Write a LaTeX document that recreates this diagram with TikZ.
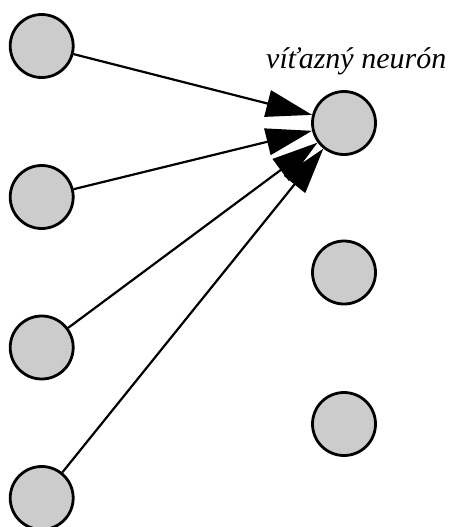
\documentclass[tikz,border=0pt]{standalone}
\usepackage{fontspec}
\setmainfont{Liberation Serif}
\usetikzlibrary{arrows.meta}
\definecolor{neurongray}{HTML}{CCCCCC}
\tikzset{
  neuron/.style={circle, draw=black, fill=neurongray, line width=2.8pt, minimum size=63pt, inner sep=0pt},
  link/.style={line width=2.2pt, -{Triangle[length=46pt,width=27pt]}}
}
\begin{document}
\begin{tikzpicture}[x=1pt,y=-1pt]
\useasboundingbox (0,0) rectangle (448,527);
\node[neuron] (l1) at (41.7,46) {};
\node[neuron] (l2) at (41.7,197) {};
\node[neuron] (l3) at (41.7,347.5) {};
\node[neuron] (l4) at (41.7,498) {};
\node[neuron] (r1) at (344,123) {};
\node[neuron] (r2) at (344,272.5) {};
\node[neuron] (r3) at (344,424) {};
\node[anchor=base west, inner sep=0pt, font=\fontsize{30}{34}\selectfont\itshape] (lbl) at (266,68.3) {víťazný neurón};
\draw[link] (l1) -- (r1);
\draw[link] (l2) -- (r1);
\draw[link] (l3) -- (r1);
\draw[link] (l4) -- (r1);
\end{tikzpicture}
\end{document}
